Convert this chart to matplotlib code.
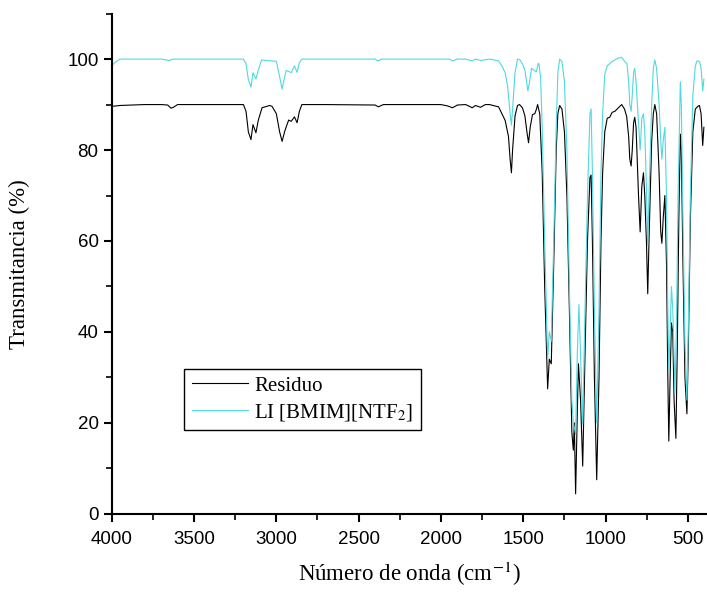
import matplotlib
matplotlib.use("Agg")
import matplotlib.pyplot as plt
from matplotlib.ticker import MultipleLocator

# Residuo spectrum (wavenumber in cm-1, transmittance in %)
res_wn = [4000, 3950, 3800, 3700, 3660, 3640, 3625, 3600, 3300, 3200, 3184, 3170,
          3154, 3142, 3124, 3110, 3087, 3040, 3026, 3000, 2980, 2965, 2950, 2941,
          2925, 2910, 2890, 2874, 2860, 2845, 2700, 2400, 2380, 2350, 2000, 1960,
          1930, 1900, 1850, 1810, 1790, 1760, 1730, 1705, 1650, 1630, 1610, 1590,
          1580, 1572, 1565, 1550, 1535, 1523, 1505, 1490, 1478, 1468, 1458, 1444,
          1430, 1420, 1413, 1400, 1385, 1370, 1352, 1342, 1330, 1315, 1300, 1290,
          1279, 1265, 1250, 1235, 1220, 1205, 1196, 1190, 1182, 1172, 1165, 1152,
          1139, 1125, 1110, 1095, 1088, 1080, 1068, 1054, 1040, 1028, 1018, 1005,
          990, 975, 960, 944, 925, 902, 885, 872, 860, 853, 845, 838, 830, 823,
          815, 800, 790, 780, 770, 762, 752, 744, 735, 720, 710, 701, 690, 675,
          665, 658, 650, 640, 630, 622, 616, 608, 600, 592, 584, 573, 565, 555,
          546, 540, 530, 518, 506, 498, 485, 470, 455, 440, 430, 420, 410, 403]
res_t = [89.6, 89.8, 90, 90, 89.9, 89.2, 89.4, 90, 90, 90, 88.5, 84,
         82.3, 85.6, 83.8, 86.5, 89.3, 89.8, 89.6, 88, 84, 81.9, 84, 85,
         86.6, 86.3, 87.3, 86, 88.5, 90, 90, 89.9, 89.5, 90, 90, 89.7,
         89.3, 89.9, 90, 89.3, 89.8, 89.4, 90, 90, 89.5, 88, 86.5, 83,
         78, 75, 80, 87.5, 89.8, 90, 89.3, 87.5, 84, 81.6, 85, 87.8,
         88, 89, 90, 88, 75, 50, 27.5, 34, 33, 55, 80, 88,
         89.8, 89, 84, 70, 45, 18, 14, 20, 4.4, 22, 33, 25,
         10.5, 35, 60, 74, 74.5, 60, 30, 7.5, 30, 60, 75, 84,
         87, 87.2, 88.3, 88.5, 89.2, 90, 89, 87.4, 83, 78, 76.5, 80, 86, 87.2,
         85, 70, 62, 72, 75, 70, 60, 48.4, 62, 82, 88, 90, 88, 75,
         62, 59.5, 65, 70, 55, 30, 16, 30, 42, 40, 25, 16.6, 35, 65,
         83.5, 80, 55, 30, 22, 35, 65, 84, 89, 89.6, 89.8, 88, 81, 85]

# LI [BMIM][NTF2] spectrum
li_wn = [4000, 3980, 3950, 3700, 3650, 3630, 3200, 3184, 3170, 3154, 3142, 3124,
         3110, 3090, 3000, 2985, 2965, 2950, 2940, 2925, 2910, 2890, 2874, 2860,
         2845, 2400, 2385, 2360, 1950, 1930, 1900, 1850, 1810, 1790, 1760, 1700,
         1650, 1630, 1610, 1595, 1580, 1572, 1565, 1550, 1535, 1520, 1505, 1490,
         1478, 1472, 1462, 1450, 1435, 1420, 1410, 1405, 1395, 1385, 1370, 1352,
         1342, 1330, 1315, 1300, 1290, 1279, 1265, 1250, 1235, 1220, 1205, 1196,
         1182, 1172, 1162, 1152, 1139, 1125, 1110, 1095, 1088, 1080, 1068, 1054,
         1040, 1028, 1018, 1005, 990, 960, 925, 902, 885, 870, 860, 853,
         845, 838, 830, 823, 815, 800, 790, 780, 770, 762, 752, 744,
         735, 720, 710, 701, 690, 675, 665, 658, 650, 640, 630, 622,
         616, 608, 600, 592, 584, 579, 570, 560, 546, 540, 530, 518,
         506, 498, 485, 470, 455, 445, 430, 420, 410, 403]
li_t = [98.5, 99.3, 100, 100, 99.7, 100, 100, 99, 95.5, 93.8, 97, 95.6,
        97.5, 99.8, 99.5, 97, 93.4, 96, 97.5, 97.3, 97, 98.5, 97.1, 99.2,
        100, 100, 99.6, 100, 100, 99.6, 100, 100, 99.6, 100, 99.7, 100,
        99.6, 98.5, 97, 94, 88, 85.5, 89, 97, 100, 99.8, 99, 97.5,
        94.5, 93, 95, 98, 97.5, 97.2, 99, 99, 96, 85, 60, 34,
        40, 38, 60, 85, 97, 100, 99.5, 95, 80, 50, 25, 20,
        17.5, 35, 46, 35, 19.7, 45, 70, 88, 89, 75, 45, 20,
        45, 75, 88, 96.7, 98.5, 99.5, 100.2, 100.4, 99.5, 99, 95, 90,
        88.5, 92, 97, 98, 95, 86, 80, 87, 88, 84, 72, 59,
        72, 90, 98, 99.8, 98, 90, 82, 78, 82, 85, 70, 45,
        31.4, 40, 50, 45, 35, 26.5, 40, 70, 95, 90, 65, 38,
        25, 40, 70, 92, 98.5, 99.6, 99.5, 98, 93, 95.6]

plt.rcParams["mathtext.fontset"] = "stix"

fig = plt.figure(figsize=(7.07, 5.92), dpi=100)
ax = fig.add_axes([0.158, 0.132, 0.842, 0.845])

ax.plot(res_wn, res_t, color="black", lw=0.8, label="Residuo")
ax.plot(li_wn, li_t, color="#4fd9e0", lw=0.8, label=r"LI [BMIM][NTF$_{2}$]")

ax.set_xlim(4000, 384)
ax.set_ylim(0, 110)
ax.xaxis.set_major_locator(MultipleLocator(500))
ax.xaxis.set_minor_locator(MultipleLocator(250))
ax.yaxis.set_major_locator(MultipleLocator(20))
ax.yaxis.set_minor_locator(MultipleLocator(10))

for s in ["top", "right"]:
    ax.spines[s].set_visible(False)
for s in ["left", "bottom"]:
    ax.spines[s].set_linewidth(1.5)

ax.tick_params(which="major", direction="out", length=6, width=1.5)
ax.tick_params(which="minor", direction="out", length=4, width=1.2)
ax.tick_params(axis="x", pad=6)
for lab in ax.get_xticklabels() + ax.get_yticklabels():
    lab.set_fontfamily("Liberation Sans")
    lab.set_fontsize(13.5)

serif = {"family": "Liberation Serif", "size": 16.5}
ax.set_xlabel(r"Número de onda (cm$^{\mathrm{-1}}$)", fontdict=serif, labelpad=9)
ax.set_ylabel("Transmitancia (%)", fontdict=serif, labelpad=27)

leg = ax.legend(loc="upper left", bbox_to_anchor=(0.122, 0.29), borderaxespad=0,
                prop={"family": "Liberation Serif", "size": 15},
                handlelength=2.7, handletextpad=0.3, borderpad=0.35,
                labelspacing=0.3, fancybox=False, framealpha=1)
leg.get_frame().set_edgecolor("black")
leg.get_frame().set_linewidth(1.0)

plt.savefig("out.png", dpi=100)
